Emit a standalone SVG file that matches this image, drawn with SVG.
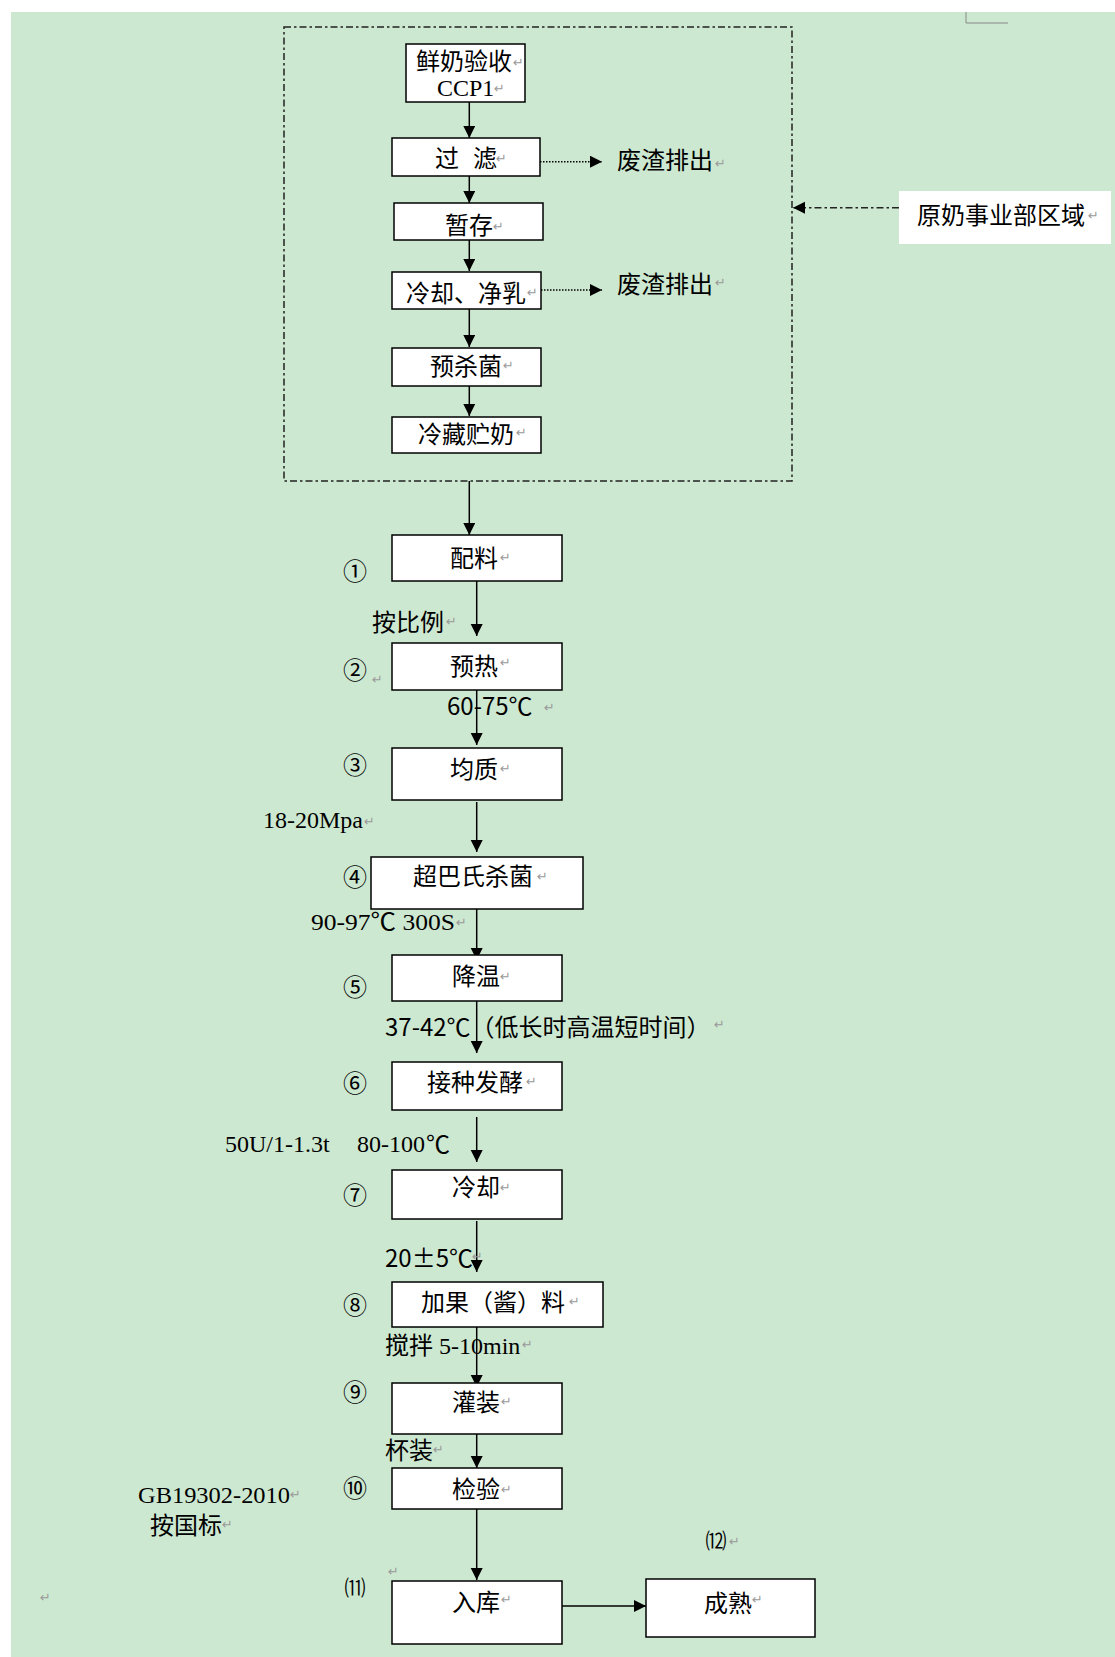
<svg xmlns="http://www.w3.org/2000/svg" width="1115" height="1657" viewBox="0 0 1115 1657">
<style>
.box{fill:#fff;stroke:#000;stroke-width:1.5}
.t{font-family:"Noto Sans CJK SC","Noto Sans",sans-serif;font-size:24px;fill:#000}
.s{font-family:"Liberation Serif","Noto Sans CJK SC",serif;font-size:24px;fill:#000}
.n{font-family:"Noto Sans CJK SC","DejaVu Sans",sans-serif;font-size:24px;fill:#000;text-anchor:middle}
.m{font-family:"DejaVu Sans",sans-serif;font-size:13px;fill:#9a9a9a}
.c{stroke:#000;stroke-width:1.5;fill:none}
.dot{stroke:#000;stroke-width:1.5;fill:none;stroke-dasharray:1.5 1.5}
.dd{stroke:#222;stroke-width:1.5;fill:none;stroke-dasharray:7 3 2.5 3}
</style>
<defs>
<marker id="ah" markerUnits="userSpaceOnUse" markerWidth="13" markerHeight="13" refX="12" refY="6" orient="auto">
<path d="M0,0 L12,6 L0,12 z" fill="#000"/>
</marker>
</defs>
<rect x="0" y="0" width="1115" height="1657" fill="#fff"/>
<rect x="11" y="12" width="1104" height="1645" fill="#cde8d0"/>
<path d="M966,12 V23 H1008" stroke="#888" stroke-width="1" fill="none"/>
<g id="region">
<rect x="284" y="27" width="508" height="454" fill="#fff" class="dd"/>
</g>
<g id="region-label">
<rect x="899" y="191" width="212" height="53" fill="#fff"/>
<text class="t" x="917" y="224">原奶事业部区域</text>
<text class="m" x="1088" y="220">↵</text>
</g>
<g id="connectors">
<line class="c" x1="469.3" y1="102" x2="469.3" y2="138" marker-end="url(#ah)"/>
<line class="c" x1="469.3" y1="176" x2="469.3" y2="203" marker-end="url(#ah)"/>
<line class="c" x1="469.3" y1="240" x2="469.3" y2="271" marker-end="url(#ah)"/>
<line class="c" x1="469.3" y1="309" x2="469.3" y2="347" marker-end="url(#ah)"/>
<line class="c" x1="469.3" y1="386" x2="469.3" y2="416" marker-end="url(#ah)"/>
<line class="dot" x1="540" y1="161.7" x2="602" y2="161.7" marker-end="url(#ah)"/>
<line class="dot" x1="541" y1="290" x2="602" y2="290" marker-end="url(#ah)"/>
<line class="dd" x1="899" y1="207.7" x2="793" y2="207.7" marker-end="url(#ah)"/>
<line class="c" x1="469.3" y1="481" x2="469.3" y2="535" marker-end="url(#ah)"/>
<line class="c" x1="476.7" y1="581" x2="476.7" y2="636" marker-end="url(#ah)"/>
<line class="c" x1="476.7" y1="690" x2="476.7" y2="745" marker-end="url(#ah)"/>
<line class="c" x1="476.7" y1="802" x2="476.7" y2="852" marker-end="url(#ah)"/>
<line class="c" x1="476.7" y1="909" x2="476.7" y2="960" marker-end="url(#ah)"/>
<line class="c" x1="476.7" y1="1001" x2="476.7" y2="1053" marker-end="url(#ah)"/>
<line class="c" x1="476.7" y1="1117" x2="476.7" y2="1162" marker-end="url(#ah)"/>
<line class="c" x1="476.7" y1="1221" x2="476.7" y2="1272" marker-end="url(#ah)"/>
<line class="c" x1="476.7" y1="1327" x2="476.7" y2="1387" marker-end="url(#ah)"/>
<line class="c" x1="476.7" y1="1434" x2="476.7" y2="1468" marker-end="url(#ah)"/>
<line class="c" x1="476.7" y1="1509" x2="476.7" y2="1580" marker-end="url(#ah)"/>
<line class="c" x1="562" y1="1606" x2="646" y2="1606" marker-end="url(#ah)"/>
</g>
<g id="n-xianNai">
<rect class="box" x="406" y="44" width="119" height="58"/>
<text class="t" x="416" y="70">鲜奶验收</text>
<text class="s" x="437" y="96">CCP1</text>
<text class="m" x="513" y="67">↵</text>
<text class="m" x="494" y="93">↵</text>
</g>
<g id="n-guolv">
<rect class="box" x="392" y="138" width="148" height="38"/>
<text class="t" x="435 459 473" y="167">过 滤</text>
<text class="m" x="496" y="163">↵</text>
</g>
<g id="n-feizha1">
<text class="t" x="617" y="169">废渣排出</text>
<text class="m" x="715" y="168">↵</text>
</g>
<g id="n-zancun">
<rect class="box" x="394" y="203" width="149" height="37"/>
<text class="t" x="445" y="234">暂存</text>
<text class="m" x="493" y="231">↵</text>
</g>
<g id="n-lengque1">
<rect class="box" x="392" y="272" width="149" height="37"/>
<text class="t" x="406" y="302">冷却、净乳</text>
<text class="m" x="527" y="297">↵</text>
</g>
<g id="n-feizha2">
<text class="t" x="617" y="293">废渣排出</text>
<text class="m" x="715" y="287">↵</text>
</g>
<g id="n-yushajun">
<rect class="box" x="392" y="348" width="149" height="38"/>
<text class="t" x="430" y="375">预杀菌</text>
<text class="m" x="503" y="370">↵</text>
</g>
<g id="n-lengcang">
<rect class="box" x="392" y="417" width="149" height="36"/>
<text class="t" x="418" y="443">冷藏贮奶</text>
<text class="m" x="516" y="437">↵</text>
</g>
<g id="n-peiliao">
<rect class="box" x="392" y="535" width="170" height="46"/>
<text class="t" x="450" y="567">配料</text>
<text class="m" x="500" y="562">↵</text>
<text class="n" x="355" y="580">①</text>
</g>
<g id="l-anbili">
<text class="t" x="372" y="631">按比例</text>
<text class="m" x="446" y="626">↵</text>
</g>
<g id="n-yure">
<rect class="box" x="392" y="643" width="170" height="47"/>
<text class="t" x="450" y="675">预热</text>
<text class="m" x="500" y="667">↵</text>
<text class="n" x="355" y="679">②</text>
<text class="m" x="372" y="684">↵</text>
</g>
<g id="l-6075">
<text class="t" x="447" y="715">60-75℃</text>
<text class="m" x="544" y="712">↵</text>
</g>
<g id="n-junzhi">
<rect class="box" x="392" y="748" width="170" height="52"/>
<text class="t" x="450" y="778">均质</text>
<text class="m" x="500" y="773">↵</text>
<text class="n" x="355" y="774">③</text>
</g>
<g id="l-mpa">
<text class="s" x="263" y="828" textLength="100" lengthAdjust="spacingAndGlyphs">18-20Mpa</text>
<text class="m" x="364" y="826">↵</text>
</g>
<g id="n-chaobashi">
<rect class="box" x="371" y="857" width="212" height="52"/>
<text class="t" x="413" y="885">超巴氏杀菌</text>
<text class="m" x="537" y="881">↵</text>
<text class="n" x="355" y="886">④</text>
</g>
<g id="l-9097">
<text class="s" x="311" y="930" textLength="144" lengthAdjust="spacingAndGlyphs">90-97℃  300S</text>
<text class="m" x="456" y="927">↵</text>
</g>
<g id="n-jiangwen">
<rect class="box" x="392" y="955" width="170" height="46"/>
<text class="t" x="452" y="985">降温</text>
<text class="m" x="500" y="981">↵</text>
<text class="n" x="355" y="996">⑤</text>
</g>
<g id="l-3742">
<text class="t" x="385" y="1036">37-42℃（低长时高温短时间）</text>
<text class="m" x="714" y="1029">↵</text>
</g>
<g id="n-jiezhong">
<rect class="box" x="392" y="1062" width="170" height="48"/>
<text class="t" x="427" y="1091">接种发酵</text>
<text class="m" x="526" y="1086">↵</text>
<text class="n" x="355" y="1092">⑥</text>
</g>
<g id="l-50u">
<text class="s" x="225" y="1152">50U/1-1.3t</text>
<text class="s" x="357" y="1152">80-100</text>
<text class="t" x="426" y="1153">℃</text>
</g>
<g id="n-lengque2">
<rect class="box" x="392" y="1170" width="170" height="49"/>
<text class="t" x="452" y="1196">冷却</text>
<text class="m" x="500" y="1192">↵</text>
<text class="n" x="355" y="1204">⑦</text>
</g>
<g id="l-205">
<text class="t" x="385" y="1267">20±5℃</text>
<text class="m" x="472" y="1261">↵</text>
</g>
<g id="n-jiaguo">
<rect class="box" x="392" y="1282" width="211" height="45"/>
<text class="t" x="421" y="1311">加果（酱）料</text>
<text class="m" x="569" y="1306">↵</text>
<text class="n" x="355" y="1314">⑧</text>
</g>
<g id="l-jiaoban">
<text class="t" x="385" y="1354">搅拌<tspan class="s"> 5-10min</tspan></text>
<text class="m" x="522" y="1349">↵</text>
</g>
<g id="n-guanzhuang">
<rect class="box" x="392" y="1383" width="170" height="51"/>
<text class="t" x="452" y="1411">灌装</text>
<text class="m" x="501" y="1406">↵</text>
<text class="n" x="355" y="1401">⑨</text>
</g>
<g id="l-beizhuang">
<text class="t" x="385" y="1459">杯装</text>
<text class="m" x="433" y="1454">↵</text>
</g>
<g id="n-jianyan">
<rect class="box" x="392" y="1468" width="170" height="41"/>
<text class="t" x="452" y="1498">检验</text>
<text class="m" x="501" y="1494">↵</text>
<text class="n" x="355" y="1497">⑩</text>
</g>
<g id="l-gb">
<text class="s" x="138" y="1503" textLength="152" lengthAdjust="spacingAndGlyphs">GB19302-2010</text>
<text class="m" x="290" y="1499">↵</text>
<text class="t" x="150" y="1534">按国标</text>
<text class="m" x="222" y="1529">↵</text>
</g>
<g id="n-ruku">
<rect class="box" x="392" y="1581" width="170" height="63"/>
<text class="t" x="452" y="1611">入库</text>
<text class="m" x="501" y="1604">↵</text>
<text class="n" x="355" y="1595" style="font-size:21px">⑾</text>
<text class="m" x="388" y="1576">↵</text>
<text class="m" x="40" y="1602">↵</text>
</g>
<g id="n-chengshu">
<rect class="box" x="646" y="1579" width="169" height="58"/>
<text class="t" x="704" y="1612">成熟</text>
<text class="m" x="752" y="1604">↵</text>
<text class="n" x="716" y="1548" style="font-size:21px">⑿</text>
<text class="m" x="729" y="1546">↵</text>
</g>
</svg>
